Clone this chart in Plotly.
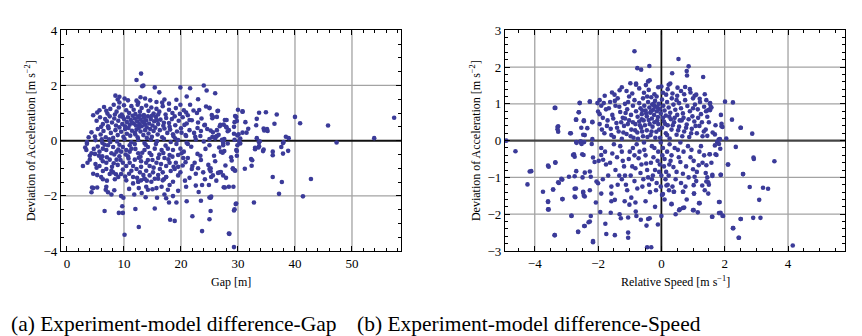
import plotly.graph_objects as go

# ---------------- data: (a) Gap vs deviation of acceleration ----------------
gap_upper = [(13.0,2.43),(12.2,2.2),(13.2,1.97),(13.4,2.0),(15.4,1.93),(16.2,1.75),(19.9,1.93),
             (21.6,1.9),(24.0,2.0),(24.5,1.82),(26.0,1.72),(8.5,1.63),(9.2,1.59),(12.9,1.57),
             (13.7,1.53),(17.1,1.49),(19.2,1.48),(10.1,1.53),(8.9,1.49),(10.7,1.46),(12.2,1.45),
             (14.6,1.46),(15.7,1.40),(16.7,1.38),(9.2,1.38),(12.5,1.38),(23.0,1.50),(21.0,1.60)]
gap_band1 = [(5.7,1.10),(6.5,1.22),(7.1,0.98),(7.6,1.15),(8.2,1.30),(8.7,1.05),(9.1,1.20),(9.6,0.95),
             (10.0,1.28),(10.4,1.10),(10.9,1.00),(11.3,1.25),(11.7,1.12),(12.0,0.96),(12.4,1.30),
             (12.8,1.05),(13.1,1.18),(13.5,0.93),(13.9,1.27),(14.3,1.08),(14.8,1.20),(15.2,0.98),
             (15.7,1.15),(16.2,1.05),(16.8,1.25),(17.3,0.95),(17.9,1.12),(18.5,1.00),(19.1,1.18),
             (19.8,0.97),(20.5,1.10),(21.2,0.92),(22.8,1.00),(17.9,1.34),(19.9,1.30),(21.6,1.30),
             (22.2,1.09),(23.2,1.11),(24.4,1.24),(25.0,1.18),(26.5,1.08),(25.0,1.19),(26.4,1.07),
             (25.4,0.93),(30.0,1.12),(30.8,1.05),(30.8,1.06),(33.7,1.01),(34.9,1.03),(36.8,0.95)]
gap_band2 = [(4.6,0.92),(5.2,0.72),(5.8,0.85),(6.3,0.60),(6.7,0.78),(7.2,0.52),(7.5,0.88),(7.9,0.66),
             (8.3,0.80),(8.6,0.55),(9.0,0.72),(9.3,0.88),(9.7,0.60),(10.0,0.78),(10.2,0.52),(10.5,0.68),
             (10.7,0.85),(11.0,0.58),(11.2,0.75),(11.5,0.90),(11.7,0.62),(11.9,0.80),(12.1,0.55),
             (12.3,0.70),(12.5,0.86),(12.7,0.60),(12.9,0.76),(13.1,0.52),(13.3,0.68),(13.5,0.84),
             (13.7,0.58),(13.9,0.74),(14.2,0.88),(14.4,0.62),(14.7,0.78),(15.0,0.55),(15.3,0.70),
             (15.6,0.86),(16.0,0.60),(16.4,0.76),(16.9,0.54),(17.4,0.82),(17.9,0.64),(18.4,0.78),
             (19.0,0.56),(19.6,0.72),(20.3,0.85),(21.0,0.62),(21.9,0.74),(23.0,0.66),(24.1,0.56),
             (8.4,0.95),(9.8,0.86),(11.4,0.66),(12.8,0.90),(13.6,0.70),(14.9,0.90),(15.8,0.74),
             (7.0,0.70),(6.0,0.50),(16.0,0.95),(17.0,0.65),(18.0,0.50),(21.5,0.75),(23.6,0.80),
             (25.6,0.86),(24.2,0.57),(25.5,0.81),(26.3,0.86),(27.7,0.75),(28.0,0.75),(29.7,0.86),
             (29.4,0.67),(29.5,0.89),(29.8,0.71),(26.9,0.57),(27.5,0.58),(33.3,0.79),(34.5,0.44),
             (40.0,0.86),(40.9,0.63),(45.8,0.55),(57.4,0.83),(36.4,0.61),(31.3,0.67),(20.6,0.57),
             (22.9,0.46),(5.3,1.02),(6.9,1.08),(18.9,0.88),(20.9,1.02)]
gap_band3 = [(4.3,0.30),(4.9,0.15),(5.4,0.42),(5.9,0.22),(6.4,0.35),(6.8,0.12),(7.3,0.45),(7.7,0.28),
             (8.1,0.10),(8.5,0.38),(8.9,0.20),(9.2,0.48),(9.5,0.32),(9.9,0.14),(10.2,0.42),
             (10.5,0.25),(10.8,0.46),(11.1,0.18),(11.4,0.36),(11.9,0.28),(12.2,0.40),(12.4,0.12),
             (12.6,0.46),(12.9,0.33),(13.4,0.20),(13.7,0.38),(14.0,0.48),(14.3,0.26),(14.6,0.42),
             (14.9,0.14),(15.2,0.35),(15.5,0.47),(15.9,0.22),(16.3,0.38),(16.7,0.12),(17.1,0.44),
             (17.6,0.28),(18.1,0.40),(18.7,0.16),(19.3,0.33),(20.0,0.45),(20.8,0.20),(21.5,0.38),
             (22.3,0.28),(23.5,0.35),(24.6,0.42),(25.6,0.30),(12.0,0.22),(14.0,0.10),
             (25.5,0.13),(26.3,0.17),(26.8,0.52),(28.0,0.48),(28.4,0.38),(30.1,0.23),(27.6,0.06),
             (25.0,0.06),(23.4,0.17),(22.5,0.14),(20.9,0.17),(20.1,0.29),(18.6,0.23),(25.2,0.37),
             (26.3,0.38),(27.9,0.50),(28.2,0.34),(26.1,0.14),(26.6,0.21),(29.3,0.50),
             (29.3,0.25),(29.9,0.19),(30.4,0.08),(30.8,0.29),(31.5,0.29),(31.8,0.43),
             (34.6,0.37),(35.2,0.35),(35.1,0.42),(38.4,0.14),(38.9,0.09),(33.3,0.09),
             (33.2,0.56),(53.9,0.09),(3.8,0.12),(6.1,0.05),(19.0,0.08)]
gap_axis = [(3.5,-0.05),(3.5,-0.11),(5.0,0.02),(6.2,-0.08),(7.4,0.05),(8.8,-0.03),(10.1,0.06),
            (11.3,-0.06),(12.5,0.03),(13.6,-0.09),(14.7,0.04),(15.8,-0.02),(17.0,0.07),
            (18.2,-0.05),(19.5,0.02),(21.0,-0.08),(22.6,0.04),(24.0,-0.03),(26.0,0.08),(27.2,0.03),
            (27.4,-0.08),(29.4,0.03),(30.2,-0.02),(30.4,-0.10),(33.8,-0.02),(47.3,-0.07),
            (25.0,-0.17),(29.9,-0.17),(33.7,-0.06),(37.9,-0.09),(38.0,-0.05)]
gap_lower1 = [(3.2,-0.25),(4.0,-0.55),(4.7,-0.30),(5.6,-0.55),(6.6,-0.15),(7.0,-0.60),(8.3,-0.50),
              (9.2,-0.15),(10.3,-0.50),(11.0,-0.40),(11.9,-0.12),(12.9,-0.58),(13.8,-0.15),
              (14.5,-0.45),(15.6,-0.12),(16.2,-0.50),(17.3,-0.18),(18.5,-0.58),(19.2,-0.12),
              (20.5,-0.40),(21.8,-0.22),(22.9,-0.48),(24.3,-0.30),(25.8,-0.55),(26.7,-0.25),
              (28.2,-0.10),(28.8,-0.60),(3.4,-0.34),(4.3,-0.46),(4.9,-0.48),(5.4,-0.21),(5.7,-0.40),
              (6.2,-0.57),(6.3,-0.29),(6.9,-0.34),(7.2,-0.17),(7.8,-0.46),(8.1,-0.23),(8.7,-0.40),
              (9.2,-0.57),(9.5,-0.40),(9.8,-0.23),(10.4,-0.34),(10.7,-0.57),(11.0,-0.17),(11.3,-0.29),
              (12.5,-0.46),(13.2,-0.44),(13.6,-0.34),(14.2,-0.23),(14.8,-0.52),(15.4,-0.29),
              (16.6,-0.34),(17.7,-0.29),(18.0,-0.52),(18.6,-0.34),(19.5,-0.52),(19.9,-0.29),
              (20.1,-0.46),(27.4,-0.17),(27.3,-0.44),(29.7,-0.34),(27.0,-0.40),
              (27.6,-0.38),(29.8,-0.38),(29.8,-0.55),(33.0,-0.26),(33.6,-0.25),
              (33.0,-0.31),(34.4,-0.38),(34.5,-0.32),(33.7,-0.20),(37.6,-0.23),(38.8,-0.37),
              (37.9,-0.47),(36.1,-0.53),(36.1,-0.40),(12.0,-0.30),(16.9,-0.45),(21.2,-0.12),
              (23.4,-0.55),(7.6,-0.05),(9.0,-0.32)]
gap_lower2 = [(2.8,-0.92),(4.0,-0.69),(5.0,-0.85),(5.2,-0.98),(5.7,-0.92),(6.0,-0.65),
              (6.3,-0.75),(6.9,-0.80),(7.5,-0.69),(7.9,-0.95),(8.7,-0.69),(8.9,-0.88),(9.4,-0.70),
              (9.8,-0.80),(10.4,-0.92),(10.8,-0.65),(11.0,-0.80),(11.6,-0.92),(11.9,-0.69),
              (12.2,-1.03),(13.0,-0.95),(13.0,-0.75),(13.9,-0.80),
              (14.2,-0.70),(14.5,-0.92),(15.2,-0.98),(15.7,-0.80),(16.0,-0.63),(16.5,-0.85),
              (17.1,-0.63),(17.4,-0.92),(17.8,-0.68),(18.0,-0.80),(19.1,-0.80),(19.5,-0.95),
              (20.8,-0.78),(21.2,-0.63),(22.0,-0.92),(22.4,-0.80),(23.5,-0.70),(24.8,-0.88),
              (26.0,-0.75),(27.8,-0.90),(28.9,-0.72),(32.3,-0.67),(32.5,-0.71),(32.4,-0.91),
              (31.2,-1.02),(29.1,-1.00),(29.4,-1.07),(25.2,-1.00),(25.2,-1.11),(3.6,-0.80),
              (8.2,-0.82),(12.6,-0.62),(15.0,-0.70),(18.7,-0.95),(20.3,-0.90),(23.0,-1.00)]
gap_lower3 = [(5.3,-1.25),(6.0,-1.32),(6.3,-1.10),(6.3,-1.40),(6.9,-1.03),(7.0,-1.45),(7.5,-1.21),
              (7.8,-1.09),(8.1,-1.15),(8.4,-1.40),(8.6,-1.22),(9.0,-1.32),(9.5,-1.21),(9.8,-1.05),
              (10.9,-1.20),(11.3,-1.09),(11.6,-1.32),(12.3,-1.35),(12.5,-1.49),
              (12.8,-1.15),(13.4,-1.25),(13.6,-1.38),(13.9,-1.09),(14.0,-1.45),
              (14.5,-1.26),(15.1,-1.15),(15.4,-1.38),(16.0,-1.25),(16.3,-1.03),
              (16.8,-1.15),(17.0,-1.40),(17.4,-1.32),(18.2,-1.10),(18.9,-1.03),
              (19.5,-1.26),(19.9,-1.15),(20.4,-0.63),(21.5,-1.35),
              (21.9,-1.03),(22.6,-1.20),(23.9,-1.15),(24.2,-1.40),(25.0,-1.03),
              (25.3,-1.32),(26.2,-1.45),(26.8,-1.15),(27.4,-1.26),(27.9,-1.35),(29.1,-1.03),
              (29.5,-1.09),(26.5,-1.17),(27.0,-1.14),(25.6,-1.26),(36.1,-1.32),
              (37.7,-1.50),(42.8,-1.39),(4.6,-1.20),(10.2,-1.30),(20.7,-1.45)]
gap_lower4 = [(4.3,-1.87),(4.4,-1.70),(4.6,-1.72),(5.3,-1.70),(6.8,-1.78),(6.9,-1.67),(7.2,-1.87),
              (7.8,-1.95),(9.5,-2.01),(9.9,-2.07),(9.7,-2.38),(9.1,-2.62),(9.8,-2.62),(6.6,-2.55),
              (10.1,-3.41),(12.0,-2.48),(12.6,-3.13),(10.9,-1.75),(13.8,-2.05),
              (15.4,-2.46),(15.8,-2.07),(17.1,-1.95),(17.4,-2.09),(17.9,-2.24),(15.0,-1.76),
              (15.7,-1.72),(14.2,-1.78),(13.0,-1.44),(13.6,-1.38),(12.5,-1.49),(11.6,-1.55),
              (16.8,-1.44),(17.4,-1.32),(16.0,-1.38),(18.0,-1.61),(18.6,-1.49),(10.4,-1.44),
              (14.8,-1.49),(13.9,-1.67),(16.6,-1.67),(17.7,-1.78),(12.6,-1.72),(13.1,-1.90),
              (19.5,-1.82),(18.6,-2.01),(19.2,-2.24),(18.1,-2.87),(18.9,-2.91),
              (20.9,-1.67),(22.6,-1.63),(23.7,-1.61),(24.9,-1.61),(23.1,-1.86),(25.2,-2.07),
              (23.5,-2.18),(22.0,-2.74),(25.0,-2.85),(25.2,-2.55),(23.7,-3.28),(28.4,-3.37),
              (29.3,-3.86),(29.4,-2.49),(29.7,-2.28),(28.4,-1.67),(29.2,-1.67),(27.7,-1.70),
              (25.0,-2.06),(25.3,-2.03),(29.6,-2.30),(29.3,-2.53),(28.5,-3.38),(32.8,-2.24),
              (27.5,-1.69),(37.2,-1.93),(41.4,-2.02),(8.3,-1.80),(11.8,-1.95),(21.0,-2.20)]

gap_points = gap_upper + gap_band1 + gap_band2 + gap_band3 + gap_axis + gap_lower1 + gap_lower2 + gap_lower3 + gap_lower4
gap_x = [p[0] for p in gap_points]
gap_y = [p[1] for p in gap_points]

# ---------------- data: (b) Relative speed vs deviation of acceleration ----------------
spd_outer = [(-0.85,2.43),(0.54,2.22),(-0.76,1.97),(-0.64,1.93),(-0.38,2.03),(0.86,2.02),(0.80,1.89),
             (0.81,1.77),(0.34,1.83),(1.32,1.73),(-0.98,1.56),(-0.80,1.52),(-0.42,1.61),(-0.37,1.64),
             (-0.49,1.51),(0.75,1.46),(0.51,1.44),(0.23,1.52),(0.00,1.47),(-1.56,1.31),(-1.79,1.22),
             (-1.32,1.37),(0.92,1.31),(0.72,1.26),(1.05,1.22),(1.21,1.14),(1.37,1.26),(1.54,1.02),
             (1.58,0.90),(1.54,0.83),(2.01,1.06),(2.26,1.04),(-2.26,1.06),(-2.58,1.02),(-3.37,0.89),
             (-2.61,0.77),(-2.69,0.57),(-2.45,0.55),(-2.18,0.50),(-2.34,0.34),(-3.28,0.37),(-3.26,0.24),
             (-2.88,0.20),(-2.47,0.16),(-2.69,-0.04),(-2.55,-0.05),(-2.44,-0.04),(-2.20,-0.09),
             (-2.76,-0.37),(-2.74,-0.44),(-2.50,-0.37),(-2.16,-0.46),(-2.11,-0.58),(-1.90,-0.39),
             (-1.84,-0.52),(-3.35,-0.59),(-3.58,-0.68),(-2.42,-0.87),(-2.26,-0.84),(-2.69,-0.83),
             (-2.92,-0.98),(-2.74,-0.97),(-2.49,-1.00),(-2.23,-0.98),(-2.05,-1.11),(-2.00,-1.16),
             (-3.16,-1.04),(-3.26,-1.13),(-3.42,-1.33),(-3.12,-1.59),(-2.74,-1.31),(-2.74,-1.52),
             (-2.47,-1.39),(-2.26,-1.35),(-2.07,-1.68),(-1.90,-1.44),(-1.58,-1.44),(-1.58,-1.65),
             (-1.47,-1.61),(-1.16,-1.65),(-1.01,-1.74),(-0.82,-1.68),(-3.58,-1.65),(-3.58,-1.87),
             (-2.84,-2.05),(-2.23,-2.05),(-1.93,-1.94),(-1.60,-1.96),(-1.32,-2.00),(-1.05,-2.09),
             (-0.79,-2.05),(-1.28,-2.11),(-0.81,-1.93),(-2.44,-2.32),(-2.30,-2.22),(-2.63,-2.48),
             (-3.37,-2.57),(-2.16,-2.76),(-1.77,-2.26),(-1.74,-2.54),(-1.47,-2.57),(-1.05,-2.50),
             (-1.05,-2.64),(-0.47,-2.31),(-0.42,-2.13),(-0.11,-2.28),(-0.37,-2.11),(-0.45,-2.90),
             (-0.32,-2.90)]
spd_right = [(0.32,-1.72),(0.58,-1.87),(0.68,-1.83),(1.00,-1.89),(1.21,-1.70),(1.60,-2.07),(1.84,-1.67),
             (1.87,-1.96),(1.95,-2.05),(2.26,-2.38),(2.51,-2.13),(2.44,-2.64),(0.05,-1.45),(0.39,-1.39),
             (0.68,-1.39),(1.03,-1.44),(1.37,-1.35),(1.05,-0.98),(1.18,-0.67),(1.42,-0.67),(1.61,-0.96),
             (1.87,-0.93),(2.11,-0.65),(2.58,-0.91),(1.69,-0.13),(1.81,0.03),(2.05,0.06),(2.35,-0.17),
             (2.51,0.35),(2.23,0.57),(1.90,0.46),(1.90,0.39),(1.53,-0.37),(1.71,-0.37),(1.86,-0.22),
             (1.76,-0.04),(2.87,0.19),(2.50,0.35),(2.91,-0.46),(1.88,0.70),(1.93,0.37),(1.71,0.42),
             (1.69,0.17),(1.82,-0.09),(1.85,0.04),(1.52,-0.37),(1.74,-0.39),(1.45,0.13),(1.41,0.80),
             (1.48,0.83),(1.56,0.91),(1.53,1.00),(2.10,-0.65),(2.92,-0.50),(3.57,-0.56),(2.58,-0.91),
             (2.79,-1.26),(3.21,-1.28),(3.37,-1.31),(3.09,-1.61),(2.90,-2.10),(3.13,-2.10),(2.50,-2.13),
             (2.27,-2.38),(2.45,-2.64),(4.15,-2.85),(1.93,-2.04),(1.82,-1.97),(1.61,-2.07),(1.82,-1.67),
             (1.48,-1.44),(1.19,-1.70),(1.02,-1.89),(0.72,-1.82),(0.56,-1.89),(0.32,-1.73),(1.88,-0.93),
             (1.61,-0.93),(1.48,-1.13),(1.42,-1.11),(1.29,-1.22),(1.03,-1.44),(1.02,-1.21),(0.69,-1.39),
             (0.40,-1.39),(0.24,-1.35),(0.16,-1.22),(0.02,-1.48)]
spd_left = [(-4.90,0.00),(-4.61,-0.29),(-3.35,0.89),(-3.26,0.39),(-3.28,0.31),(-2.86,0.20),(-2.68,-0.06),
            (-2.55,-0.02),(-2.52,-0.09),(-2.61,0.77),(-2.70,0.57),(-2.45,0.53),(-2.53,0.35),(-2.18,0.51),
            (-2.42,0.15),(-2.18,0.04),(-2.46,-0.39),(-2.79,-0.39),(-2.58,1.03),(-2.26,1.06),(-2.02,1.02),
            (-2.00,0.79),(-4.23,-1.19),(-4.16,-0.84),(-4.11,-0.83),(-3.74,-1.39),(-3.56,-0.71),
            (-3.35,-0.60),(-3.58,-1.67),(-3.56,-1.87),(-3.42,-1.33),(-3.24,-1.15),(-3.13,-1.06),
            (-3.13,-1.59),(-3.37,-2.57),(-2.84,-2.04),(-2.63,-2.48),(-2.42,-2.32),(-2.42,-1.52),
            (-2.70,-1.30),(-2.72,-1.54),(-2.47,-1.42),(-2.45,-1.50),(-2.16,-2.73),(-2.26,-2.20)]
spd_core_up = [(-1.75,0.85),(-1.62,1.05),(-1.55,0.70),(-1.45,0.95),(-1.38,1.15),(-1.30,0.78),(-1.22,0.62),
               (-1.15,1.00),(-1.08,0.85),(-1.02,1.20),(-0.96,0.70),(-0.90,0.95),(-0.85,1.10),(-0.80,0.80),
               (-0.75,0.65),(-0.70,1.02),(-0.66,0.88),(-0.62,0.72),(-0.58,1.15),(-0.54,0.95),(-0.50,0.82),
               (-0.46,0.66),(-0.42,1.05),(-0.38,0.90),(-0.35,0.76),(-0.32,1.18),(-0.29,0.98),(-0.26,0.84),
               (-0.23,0.70),(-0.20,1.08),(-0.17,0.92),(-0.14,0.80),(-0.11,0.64),(-0.08,1.00),(-0.05,0.86),
               (-0.02,0.74),(0.02,1.12),(0.06,0.95),(0.10,0.82),(0.14,0.68),(0.18,1.05),(0.23,0.90),
               (0.28,0.76),(0.33,1.15),(0.38,0.98),(0.44,0.84),(0.50,0.70),(0.56,1.02),(0.62,0.88),
               (0.68,0.74),(0.75,1.10),(0.82,0.94),(0.90,0.80),(0.98,0.66),(1.06,0.98),(1.15,0.85),
               (1.25,0.72),(1.35,0.92),(1.45,0.65),(-0.22,0.94),(-0.12,0.90),(-0.25,1.00),
               (-0.33,0.80),(-0.48,0.74),(-0.60,0.82),(-1.48,1.25),(-1.10,1.35),(-0.92,1.28),
               (-0.70,1.42),(-0.55,1.30),(-0.40,1.38),(-0.22,1.26),(-0.10,1.45),(0.05,1.30),(0.20,1.40),
               (0.35,1.28),(0.50,1.22),(0.62,1.35),(0.90,1.40),(1.10,1.25),(-1.25,1.45),(-0.80,1.55),
               (0.28,1.55),(-1.90,0.95),(-1.85,0.62),(-1.95,1.10)]
spd_core_mid = [(-1.95,0.45),(-1.80,0.20),(-1.70,0.55),(-1.60,0.32),(-1.50,0.10),(-1.42,0.48),(-1.35,0.25),
                (-1.25,0.05),(-1.18,0.40),(-1.10,0.18),(-1.02,0.55),(-0.95,0.30),(-0.88,0.08),(-0.82,0.45),
                (-0.76,0.22),(-0.70,0.52),(-0.64,0.35),(-0.58,0.12),(-0.52,0.42),(-0.46,0.28),(-0.40,0.56),
                (-0.34,0.15),(-0.28,0.38),(-0.22,0.50),(-0.16,0.24),(-0.10,0.45),(-0.04,0.08),(0.02,0.35),
                (0.08,0.52),(0.14,0.20),(0.20,0.42),(0.26,0.06),(0.32,0.30),(0.40,0.50),(0.48,0.16),
                (0.56,0.38),(0.64,0.55),(0.72,0.25),(0.80,0.44),(0.88,0.10),(0.96,0.32),(1.04,0.52),
                (1.12,0.20),(1.20,0.40),(1.30,0.12),(1.40,0.30),(1.50,0.50),(1.62,0.22),(-1.15,0.60),
                (-0.30,0.60),(0.30,0.58),(-0.62,0.58)]
spd_core_low = [(-1.90,-0.20),(-1.75,-0.65),(-1.68,-0.95),(-1.55,-0.35),(-1.45,-0.80),(-1.38,-1.20),
                (-1.30,-0.15),(-1.22,-0.55),(-1.15,-0.95),(-1.08,-1.35),(-1.00,-0.30),(-0.92,-0.70),
                (-0.85,-1.10),(-0.78,-0.10),(-0.72,-0.48),(-0.66,-0.88),(-0.60,-1.25),(-0.54,-0.25),
                (-0.48,-0.62),(-0.42,-1.00),(-0.36,-1.40),(-0.30,-0.15),(-0.25,-0.45),(-0.20,-0.80),
                (-0.15,-1.15),(-0.10,-0.30),(-0.05,-0.65),(0.00,-0.95),(0.05,-0.20),(0.10,-0.50),
                (0.15,-0.85),(0.20,-1.20),(0.26,-0.10),(0.32,-0.40),(0.38,-0.72),(0.45,-1.05),(0.52,-0.25),
                (0.60,-0.58),(0.68,-0.90),(0.76,-1.25),(0.84,-0.15),(0.92,-0.45),(1.00,-0.78),(1.10,-1.10),
                (1.20,-0.30),(1.30,-0.60),(1.40,-0.88),(1.50,-1.20),(-0.02,-0.05),(-0.55,-0.05),
                (0.60,-0.05),(-0.95,-1.55),(-0.50,-1.65),(-0.20,-1.80),(0.10,-1.60),(0.45,-2.00),
                (0.80,-1.60),(1.15,-1.95),(-0.65,-2.15),(0.00,-2.05),(-1.25,-1.05),(-0.30,-1.05),
                (0.25,-0.65),(-0.85,-0.40)]
spd_fill_up = [(-1.95,0.72),(-1.88,0.30),(-1.82,1.02),(-1.72,0.40),(-1.66,0.88),(-1.58,0.15),(-1.52,0.60),
               (-1.47,1.08),(-1.40,0.35),(-1.33,0.92),(-1.27,0.50),(-1.20,0.22),(-1.13,0.75),(-1.06,0.45),
               (-1.05,1.05),(-0.97,0.12),(-0.90,0.50),(-0.83,0.28),(-0.74,0.05),(-0.68,0.42),(-0.61,0.25),
               (-0.56,0.55),(-0.44,0.10),(-0.37,0.45),(-0.31,0.25),(-0.19,0.08),(-0.13,0.55),(-0.07,0.30),
               (0.05,0.62),(0.12,0.45),(0.18,0.15),(0.25,0.65),(0.36,0.42),(0.42,0.62),(0.53,0.28),
               (0.58,0.55),(0.66,0.12),(0.70,0.62),(0.78,0.35),(0.86,0.58),(0.94,0.20),(1.00,0.88),
               (1.08,0.40),(1.16,0.62),(1.22,1.05),(1.28,0.50),(1.34,0.25),(1.42,1.10),(1.00,1.15),
               (0.48,1.10),(0.15,1.25),(-0.15,1.20),(-0.45,1.20)]
spd_fill_low = [(-1.98,-0.55),(-1.85,-1.05),(-1.78,-0.30),(-1.62,-0.60),(-1.58,-1.25),(-1.50,-0.10),
                (-1.40,-0.45),(-1.33,-0.95),(-1.25,-0.30),(-1.18,-0.70),(-1.12,-1.20),(-1.03,-0.50),
                (-0.97,-0.95),(-0.90,-0.20),(-0.82,-0.75),(-0.76,-1.30),(-0.69,-0.30),(-0.63,-0.65),
                (-0.57,-1.05),(-0.50,-0.40),(-0.45,-0.80),(-0.39,-1.20),(-0.33,-0.60),(-0.27,-0.95),
                (-0.22,-0.20),(-0.17,-1.35),(-0.12,-0.55),(-0.07,-0.85),(-0.02,-1.25),(0.03,-0.40),
                (0.08,-0.70),(0.13,-1.05),(0.18,-0.30),(0.23,-0.95),(0.29,-0.55),(0.35,-1.25),(0.42,-0.20),
                (0.48,-0.85),(0.55,-0.45),(0.62,-1.15),(0.70,-0.30),(0.78,-0.70),(0.86,-1.00),(0.95,-0.25),
                (1.02,-0.55),(1.12,-0.85),(1.25,-0.15),(1.35,-0.40),(1.45,-1.00),(1.58,-0.60)]

spd_points = spd_outer + spd_right + spd_left + spd_core_up + spd_core_mid + spd_core_low + spd_fill_up + spd_fill_low
spd_x = [p[0] for p in spd_points]
spd_y = [p[1] for p in spd_points]

# ---------------- axes / ticks ----------------
gap_range = [-1.05, 58.6]
gap_dev_range = [-4, 4]
spd_range = [-4.94, 5.8]
spd_dev_range = [-3, 3]
gap_grid_x = [10, 20, 30, 40, 50]
gap_grid_y = [-2, 2]
spd_grid_x = [-4, -2, 2, 4]
spd_grid_y = [-2, -1, 1, 2]

W, H = 862, 336
L1, R1 = 53, 393
L2, R2 = 497, 837
TOP, BOT = 16, 247

MARK = "#3b3b99"
FONT = "Liberation Serif"

fig = go.Figure()
fig.add_trace(go.Scatter(x=gap_x, y=gap_y, mode="markers", xaxis="x", yaxis="y",
                         marker=dict(size=4.6, color=MARK), hoverinfo="skip"))
fig.add_trace(go.Scatter(x=spd_x, y=spd_y, mode="markers", xaxis="x2", yaxis="y2",
                         marker=dict(size=4.6, color=MARK), hoverinfo="skip"))


def ax(rng, dtick, minor, domain, anchor):
    return dict(range=rng, dtick=dtick, tick0=0, domain=domain, anchor=anchor,
                showline=True, linecolor="black", linewidth=1.3, mirror="ticks",
                ticks="inside", ticklen=5, tickwidth=1, tickcolor="black",
                showgrid=False, zeroline=False, fixedrange=True,
                minor=dict(ticks="inside", ticklen=3, tickwidth=1, tickcolor="black",
                           dtick=minor, showgrid=False),
                tickfont=dict(family=FONT, size=13, color="black"))


ydom = [(H - BOT) / H, (H - TOP) / H]
fig.update_layout(
    width=W, height=H, margin=dict(l=0, r=0, t=0, b=0),
    plot_bgcolor="white", paper_bgcolor="white", showlegend=False,
    font=dict(family=FONT),
    xaxis=ax(gap_range, 10, 2, [L1 / W, R1 / W], "y"),
    yaxis=ax(gap_dev_range, 2, 0.5, ydom, "x"),
    xaxis2=ax(spd_range, 2, 0.5, [L2 / W, R2 / W], "y2"),
    yaxis2=ax(spd_dev_range, 1, 0.2, ydom, "x2"),
)

GRID = "#a3a3a3"
shapes = []
for v in gap_grid_x:
    shapes.append(dict(type="line", xref="x", yref="y domain", x0=v, x1=v, y0=0, y1=1,
                       line=dict(color=GRID, width=1.3), layer="below"))
for v in gap_grid_y:
    shapes.append(dict(type="line", xref="x domain", yref="y", x0=0, x1=1, y0=v, y1=v,
                       line=dict(color=GRID, width=1.3), layer="below"))
shapes.append(dict(type="line", xref="x domain", yref="y", x0=0, x1=1, y0=0, y1=0,
                   line=dict(color="#111111", width=2), layer="below"))
for v in spd_grid_x:
    shapes.append(dict(type="line", xref="x2", yref="y2 domain", x0=v, x1=v, y0=0, y1=1,
                       line=dict(color=GRID, width=1.3), layer="below"))
for v in spd_grid_y:
    shapes.append(dict(type="line", xref="x2 domain", yref="y2", x0=0, x1=1, y0=v, y1=v,
                       line=dict(color=GRID, width=1.3), layer="below"))
shapes.append(dict(type="line", xref="x2 domain", yref="y2", x0=0, x1=1, y0=0, y1=0,
                   line=dict(color="#444444", width=2.2), layer="below"))
shapes.append(dict(type="line", xref="x2", yref="y2 domain", x0=0, x1=0, y0=0, y1=1,
                   line=dict(color="#111111", width=1.8), layer="below"))
fig.update_layout(shapes=shapes)

ann = []
def txt(s, x, y, size, angle=0, xanchor="center"):
    ann.append(dict(text=s, x=x / W, y=1 - y / H, xref="paper", yref="paper", showarrow=False,
                    xanchor=xanchor, yanchor="middle", textangle=angle,
                    font=dict(family=FONT, size=size, color="black")))

txt("Gap [m]", (L1 + R1) / 2, 279, 12)
txt("Relative Speed [m s<sup>−1</sup>]", (L2 + R2) / 2, 279, 12)
txt("Deviation of Acceleration [m s<sup>−2</sup>]", 22, 132, 12, angle=-90)
txt("Deviation of Acceleration [m s<sup>−2</sup>]", 467, 132, 12, angle=-90)
txt("(a) Experiment-model difference-Gap", 1, 323, 21.5, xanchor="left")
txt("(b) Experiment-model difference-Speed", 347, 323, 21.5, xanchor="left")
fig.update_layout(annotations=ann)

fig.write_html("out.html")
